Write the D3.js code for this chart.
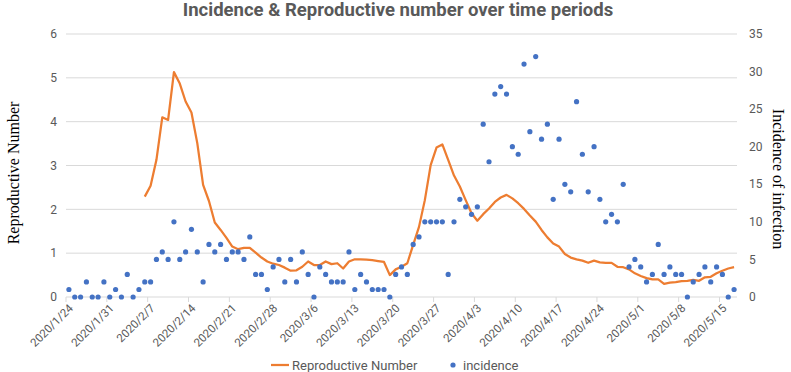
<!DOCTYPE html>
<html>
<head>
<meta charset="utf-8">
<script src="https://cdn.jsdelivr.net/npm/d3@7"></script>
<style>
  body { margin: 0; background: #fff; }
  text { font-family: Roboto, "Noto Sans", sans-serif; }
</style>
</head>
<body>
<svg id="chart" width="791" height="372"></svg>
<script>
// daily incidence, 2020/1/24 .. 2020/5/17
var incidence = [
  1,0,0,2,0,0,2,0,1,0,
  3,0,1,2,2,5,6,5,10,5,
  6,9,6,2,7,6,7,5,6,6,
  5,8,3,3,1,4,5,2,5,2,
  6,3,0,4,3,2,2,2,6,1,
  3,2,1,1,1,0,3,4,3,7,
  8,10,10,10,10,3,10,13,12,11,
  12,23,18,27,28,27,20,19,31,22,
  32,21,23,13,21,15,14,26,19,14,
  20,13,10,11,10,15,4,5,4,2,
  3,7,3,4,3,3,0,2,3,4,
  2,4,3,0,1
]

// reproductive number, starts on 2020/2/6
var reproNumber = [
  null,null,null,null,null,null,null,null,null,null,null,null,null,
  2.29,2.54,3.13,4.10,4.04,5.13,4.87,4.46,4.21,3.51,
  2.56,2.19,1.70,1.53,1.35,1.15,1.09,1.12,1.12,1.01,
  0.90,0.81,0.76,0.73,0.67,0.60,0.61,0.69,0.81,0.73,
  0.73,0.81,0.75,0.77,0.65,0.81,0.86,0.86,0.85,0.84,
  0.82,0.80,0.50,0.63,0.69,0.77,1.19,1.60,2.21,3.01,
  3.41,3.48,3.13,2.77,2.52,2.21,1.91,1.74,1.89,2.02,
  2.17,2.27,2.33,2.25,2.14,2.01,1.86,1.72,1.53,1.36,
  1.22,1.15,0.98,0.90,0.86,0.83,0.78,0.83,0.79,0.78,
  0.78,0.69,0.68,0.63,0.54,0.48,0.43,0.40,0.40,0.30,
  0.33,0.34,0.36,0.37,0.39,0.37,0.45,0.46,0.54,0.60,
  0.65,0.68
]

var tickLabels = ["2020/1/24","2020/1/31","2020/2/7","2020/2/14","2020/2/21","2020/2/28",
  "2020/3/6","2020/3/13","2020/3/20","2020/3/27","2020/4/3","2020/4/10","2020/4/17",
  "2020/4/24","2020/5/1","2020/5/8","2020/5/15"]

var leftTicks = [0,1,2,3,4,5,6]
var rightTicks = [0,5,10,15,20,25,30,35]

var fmt = d3.timeFormat("%Y/%-m/%-d")
var days = d3.timeDay.range(new Date(2020,0,24), new Date(2020,4,18)).map(fmt)

var svg = d3.select("#chart"),
    margin = {top: 34, left: 66, bottom: 75, right: 54},
    width = +svg.attr("width"),
    height = +svg.attr("height")

var grey = "#595959"

var x = d3.scaleBand()
    .domain(days)
    .range([margin.left, width - margin.right])

var yL = d3.scaleLinear().domain([0, 6]).range([height - margin.bottom, margin.top])
var yR = d3.scaleLinear().domain([0, 35]).range([height - margin.bottom, margin.top])

var cx = d => x(d) + x.bandwidth() / 2

// gridlines
svg.append("g").selectAll("line")
  .data(leftTicks)
  .enter().append("line")
    .attr("x1", margin.left).attr("x2", width - margin.right)
    .attr("y1", d => yL(d)).attr("y2", d => yL(d))
    .attr("stroke", "#d9d9d9").attr("stroke-width", 1)

// left labels
svg.append("g").selectAll("text")
  .data(leftTicks)
  .enter().append("text")
    .attr("x", 57).attr("y", d => yL(d))
    .attr("dy", "0.35em")
    .attr("text-anchor", "end")
    .style("font-size", "12px").attr("fill", grey)
    .text(d => d)

// right labels
svg.append("g").selectAll("text")
  .data(rightTicks)
  .enter().append("text")
    .attr("x", 749).attr("y", d => yR(d))
    .attr("dy", "0.35em")
    .style("font-size", "12px").attr("fill", grey)
    .text(d => d)

// x axis ticks (at week boundaries)
svg.append("g").selectAll("line")
  .data(tickLabels)
  .enter().append("line")
    .attr("x1", d => x(d)).attr("x2", d => x(d))
    .attr("y1", yL(0)).attr("y2", yL(0) + 5)
    .attr("stroke", "#d9d9d9")

svg.append("g").selectAll("text")
  .data(tickLabels)
  .enter().append("text")
    .attr("transform", d => `translate(${cx(d) + 2},${yL(0) + 9}) rotate(-45)`)
    .attr("text-anchor", "end")
    .attr("dy", "0.35em")
    .style("font-size", "11.5px").attr("fill", grey)
    .text(d => d)

// R line
var line = d3.line()
    .defined(d => d[1] != null)
    .x(d => cx(d[0]))
    .y(d => yL(d[1]))

svg.append("path")
    .datum(days.map((d, i) => [d, reproNumber[i]]))
    .attr("fill", "none")
    .attr("stroke", "#ED7D31")
    .attr("stroke-width", 2.25)
    .attr("stroke-linejoin", "round")
    .attr("d", line)

// incidence dots
svg.append("g").selectAll("circle")
  .data(days)
  .enter().append("circle")
    .attr("cx", d => cx(d))
    .attr("cy", (d, i) => yR(incidence[i]))
    .attr("r", 2.6)
    .attr("fill", "#4472C4")

// title
svg.append("text")
    .attr("x", 398).attr("y", 16)
    .attr("text-anchor", "middle")
    .style("font-size", "18.5px").style("font-weight", "bold")
    .attr("fill", grey)
    .text("Incidence & Reproductive number over time periods")

// axis titles
svg.append("text")
    .attr("transform", "translate(19,173) rotate(-90)")
    .attr("text-anchor", "middle")
    .style("font-family", "'Liberation Serif', serif").style("font-size", "16px")
    .text("Reproductive Number")

svg.append("text")
    .attr("transform", "translate(773,179) rotate(90)")
    .attr("text-anchor", "middle")
    .style("font-family", "'Liberation Serif', serif").style("font-size", "16px")
    .text("Incidence of infection")

// legend
svg.append("line").attr("x1", 271).attr("x2", 289).attr("y1", 365).attr("y2", 365)
    .attr("stroke", "#ED7D31").attr("stroke-width", 2.25)
svg.append("text").attr("x", 292).attr("y", 365).attr("dy", "0.35em")
    .style("font-size", "13px").attr("fill", grey).text("Reproductive Number")
svg.append("circle").attr("cx", 453).attr("cy", 365).attr("r", 2.6).attr("fill", "#4472C4")
svg.append("text").attr("x", 463).attr("y", 365).attr("dy", "0.35em")
    .style("font-size", "13px").attr("fill", grey).text("incidence")
</script>
</body>
</html>
